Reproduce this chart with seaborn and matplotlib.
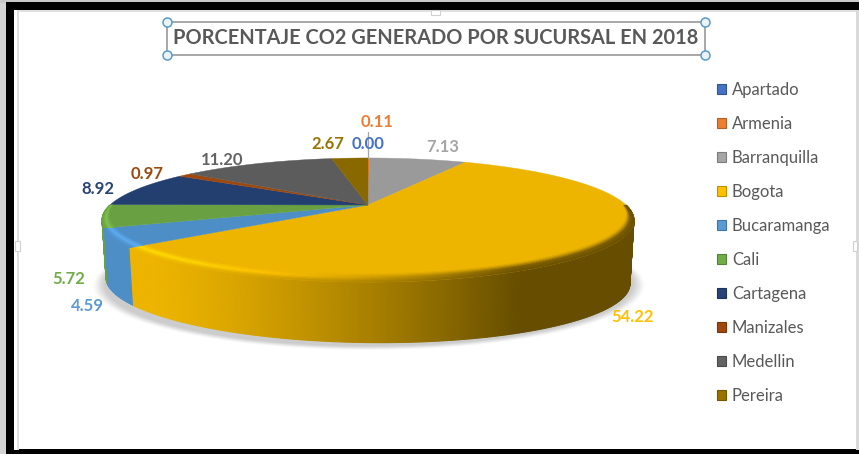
import numpy as np
import matplotlib
matplotlib.use("Agg")
import matplotlib.pyplot as plt
from matplotlib.collections import PolyCollection
from matplotlib.colors import to_rgb
from matplotlib.patches import Patch, Rectangle
import seaborn as sns

# ---------- data ----------
branches = ["Apartado", "Armenia", "Barranquilla", "Bogota", "Bucaramanga",
            "Cali", "Cartagena", "Manizales", "Medellin", "Pereira"]
co2_share = [0.00, 0.11, 7.13, 54.22, 4.59, 5.72, 8.92, 0.97, 11.20, 2.67]
face_colors = ["#4472C4", "#ED7D31", "#9A9A9A", "#EDB400", "#4D8EC6",
               "#69A042", "#223F70", "#9E480E", "#5C5C5C", "#8A6800"]
label_colors = ["#4472C4", "#ED7D31", "#A5A5A5", "#FFC000", "#5B9BD5",
                "#70AD47", "#264478", "#9E480E", "#636363", "#997300"]
title_text = "PORCENTAJE CO2 GENERADO POR SUCURSAL EN 2018"
text_gray = "#595959"

sns.set_theme(style="white")
plt.rcParams["font.family"] = ["Lato", "DejaVu Sans"]

W, H = 859, 454
fig = plt.figure(figsize=(W / 100, H / 100), dpi=100, facecolor="white")
ax = fig.add_axes([0, 0, 1, 1])

wedges, _ = ax.pie(co2_share, colors=sns.color_palette(face_colors), startangle=90,
                   counterclock=False, wedgeprops=dict(linewidth=0))
angles = [(w.theta1, w.theta2) for w in wedges]
for w in wedges:
    w.set_visible(False)

ax.set_xlim(0, W)
ax.set_ylim(H, 0)
ax.set_aspect("auto")
ax.axis("off")

# perspective view of the disc
CX, CY, A, C, P, DROP = 368.0, 205.0, 258.0, 58.4, 0.242, 60.5


def project(x, y):
    d = 1 + P * y
    return CX + A * x / d, CY - C * y / d


def rim(theta_deg, r=1.0):
    t = np.radians(theta_deg)
    return project(r * np.cos(t), r * np.sin(t))


def lower(x, y):
    """Point of the wall's bottom edge below a point of the top edge."""
    return CX + (x - CX) * 0.985, y + DROP + 3.0 * (x - CX) / 266.0


def mix(a, b, t):
    return tuple((1 - t) * np.array(a) + t * np.array(b))


def side_factor(x):
    return 1 - 0.57 * np.clip((x - 150) / 370.0, 0, 1) ** 1.3


# soft ground shadow
full = np.linspace(0, 360, 361)
for grow, alpha in zip(np.linspace(1.035, 0.995, 10), [0.015, 0.02, 0.025, 0.03, 0.03, 0.03, 0.03, 0.03, 0.03, 0.03]):
    sx, sy = rim(full, grow)
    ax.fill(sx + 1, sy + DROP + 4, color="#404040", alpha=alpha, lw=0, zorder=1)

# side wall: overlapping strips painted back to front
strips = []
STEP = 0.5
for (t1, t2), col in zip(angles, face_colors):
    if t2 <= t1:
        continue
    base = np.array(to_rgb(col))
    edge = np.arange(t1, t2 + STEP, STEP)
    edge[-1] = t2
    for a0, a1 in zip(edge[:-1], edge[1:]):
        ym = np.sin(np.radians((a0 + a1) / 2))
        if ym > 0.0:
            continue
        x0, y0 = rim(a0)
        x1, y1 = rim(a1)
        f = side_factor((x0 + x1) / 2)
        strips.append((-ym, [(x0, y0), (x1, y1), lower(x1, y1), lower(x0, y0)], tuple(base * f)))
strips.sort(key=lambda s: s[0])
ax.add_collection(PolyCollection([s[1] for s in strips], facecolors=[s[2] for s in strips],
                                 edgecolors=[s[2] for s in strips], linewidths=0.8, zorder=2))

# top face
for (t1, t2), col in zip(angles, face_colors):
    if t2 <= t1:
        continue
    th = np.linspace(t1, t2, max(int(t2 - t1) * 2, 3))
    ex, ey = rim(th)
    ax.fill(np.r_[CX, ex], np.r_[CY, ey], color=col, lw=0.3, zorder=3)

# bevel along the front edge, following the radial slice boundaries
polys, cols = [], []
bands = np.linspace(0, 1, 8)
for (t1, t2), col in zip(angles, face_colors):
    if t2 <= t1:
        continue
    base = np.array(to_rgb(col))
    edge = np.arange(t1, t2 + STEP, STEP)
    edge[-1] = t2
    for a0, a1 in zip(edge[:-1], edge[1:]):
        y0m, y1m = np.sin(np.radians(a0)), np.sin(np.radians(a1))
        if max(y0m, y1m) >= 0:
            continue

        def pt(a, ym, b):
            return rim(a, 1 - (0.012 + 0.075 * (-ym)) * (1 - b))

        xm, _y = rim((a0 + a1) / 2)
        f = side_factor(xm)
        side = np.clip(base * f, 0, 1)
        hi = np.clip(base * f * 1.22, 0, 1)
        for b0, b1 in zip(bands[:-1], bands[1:]):
            tb = (b0 + b1) / 2
            c = mix(base, hi, tb / 0.5) if tb < 0.5 else mix(hi, side, (tb - 0.5) / 0.5)
            polys.append([pt(a0, y0m, b0), pt(a1, y1m, b0), pt(a1, y1m, b1), pt(a0, y0m, b1)])
            cols.append(c)
ax.add_collection(PolyCollection(polys, facecolors=cols, edgecolors=cols, linewidths=0.3, zorder=4))

# data labels
label_xy = [(368, 144), (377, 122), (443, 147), (633, 317), (87, 306),
            (69, 279), (98, 189), (147, 174), (222, 160), (328, 144)]
for v, c, (lx, ly) in zip(co2_share, label_colors, label_xy):
    ax.text(lx, ly, f"{v:.2f}", color=c, fontsize=12, fontweight="bold",
            ha="center", va="center", zorder=6)
ax.plot([368, 368], [132, 158], color="#A6A6A6", lw=0.9, zorder=5)

# title box with selection handles
ax.text(436, 38.5, title_text, color=text_gray, fontsize=14.4, fontweight="bold",
        ha="center", va="center", zorder=6)
ax.add_patch(Rectangle((167, 22), 538, 33, fill=False, ec="#A0A0A0", lw=1.3, zorder=5))
for hx in (167, 705):
    for hy in (22, 55):
        ax.plot(hx, hy, "o", ms=6.5, mfc="#EAF3FA", mec="#5B9BC8", mew=1.1, zorder=7)

# legend
handles = [Patch(facecolor=c, edgecolor=mix(to_rgb(c), (0, 0, 0), 0.25), lw=0.8) for c in label_colors]
leg = ax.legend(handles, branches, loc="upper left", bbox_to_anchor=(710 / W, 1 - 75 / H),
                bbox_transform=fig.transFigure, frameon=False, fontsize=12,
                labelcolor=text_gray, handlelength=0.55, handleheight=0.55,
                handletextpad=0.36, labelspacing=1.08, borderpad=0.4, borderaxespad=0)
leg.set_zorder(6)

# window frame around the chart
frame = [((0, 0), 6, H, "#D4D4D4"), ((6, 2), 8, H, "#000000"), ((0, 0), W, 2.5, "#C8C8C8"),
         ((6, 2), W, 8, "#000000"), ((6, 449), W, 5, "#000000"),
         ((14, 10), 3, 440, "#FFFFFF"), ((17, 12), 2, 438, "#E0E0E0"), ((17, 10), 840, 2, "#E0E0E0"),
         ((856, 10), 3, 440, "#DADADA")]
for (xy, w, h, col) in frame:
    ax.add_patch(Rectangle(xy, w, h, fc=col, ec="none", zorder=8))
for rect in [(431, 10, 9, 5), (15, 241, 5, 10), (853, 241, 4, 10)]:
    ax.add_patch(Rectangle(rect[:2], rect[2], rect[3], fc="white", ec="#D0D0D0", lw=0.8, zorder=9))

fig.savefig("out.png", dpi=100, facecolor="white")
